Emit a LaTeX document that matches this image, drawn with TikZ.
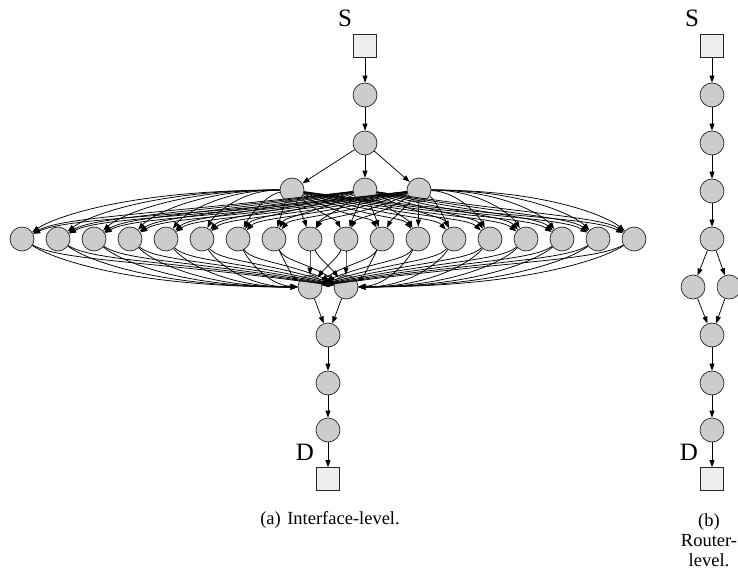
\documentclass[tikz,border=0pt]{standalone}
\usepackage{fontspec}
\setmainfont{Liberation Serif}
\usetikzlibrary{positioning, calc, arrows.meta}

\tikzset{
  nodo/.style={circle, draw=black!85, fill=gray!40, minimum size=24pt, inner sep=0pt, line width=0.7pt},
  capo/.style={rectangle, draw=black!85, fill=gray!14, minimum size=23pt, inner sep=0pt, line width=0.7pt},
  arco/.style={-{Triangle[length=7pt,width=5pt]}, line width=0.75pt},
  etich/.style={font=\fontsize{25}{25}\selectfont, inner sep=0pt},
  didasc/.style={font=\fontsize{18.5}{20}\selectfont, align=center, inner sep=0pt},
}

\begin{document}
\begin{tikzpicture}[x=1pt, y=-1pt]
        \useasboundingbox (0,0) rectangle (738,569);
        %grafo a livello interfaccia
        \node[capo] (s) at (365,46) {};
        \node[etich] (slab) at (345,18) {S};
        \node[nodo] (a1) at (365,95) {};
        \node[nodo] (a2) at (365,143) {};
        \foreach \x [count=\i] in {292,365,419}
            \node[nodo] (t\i) at (\x,190) {};
        \foreach \j in {1,...,18}
            \node[nodo] (m\j) at ({22+36*(\j-1)},239) {};
        \node[nodo] (b1) at (310,287) {};
        \node[nodo] (b2) at (346,287) {};
        \node[nodo] (c1) at (328,335) {};
        \node[nodo] (c2) at (328,383) {};
        \node[nodo] (c3) at (328,430) {};
        \node[capo] (d) at (328,479) {};
        \node[etich] (dlab) at (305,452) {D};
        %archi
        \draw[arco] (s) -- (a1);
        \draw[arco] (a1) -- (a2);
        \foreach \i in {1,2,3}
            \draw[arco] (a2) -- (t\i);
        \foreach \i/\x/\vl/\vr in {1/292/0/28, 2/365/24/24, 3/419/28/0}
            \foreach \j in {1,...,18} {
                \pgfmathsetmacro\dx{22+36*(\j-1)-\x}
                \pgfmathsetmacro\g{max(0,1-abs(\dx)/80)}
                \pgfmathsetmacro\v{((\dx<0) ? \vl : \vr)*(1-\g)+16*\g}
                \pgfmathsetmacro\pa{\dx*(0.6*(1-\g)+0.33*\g)}
                \pgfmathsetmacro\pb{-\dx*(0.12*(1-\g)+0.33*\g)}
                \pgfmathsetmacro\qb{-(22*(1-\g)+16*\g)}
                \draw[arco] (t\i) .. controls ($(t\i)+(\pa,\v)$) and ($(m\j)+(\pb,\qb)$) .. (m\j);
            }
        \foreach \k/\x/\wl/\wr in {1/310/0/26, 2/346/26/0}
            \foreach \j in {1,...,18} {
                \pgfmathsetmacro\dx{\x-(22+36*(\j-1))}
                \pgfmathsetmacro\g{max(0,1-abs(\dx)/80)}
                \pgfmathsetmacro\w{-(((\dx>0) ? \wl : \wr)*(1-\g)+16*\g)}
                \pgfmathsetmacro\pa{\dx*(0.12*(1-\g)+0.33*\g)}
                \pgfmathsetmacro\qa{22*(1-\g)+16*\g}
                \pgfmathsetmacro\pb{-\dx*(0.6*(1-\g)+0.33*\g)}
                \draw[arco] (m\j) .. controls ($(m\j)+(\pa,\qa)$) and ($(b\k)+(\pb,\w)$) .. (b\k);
            }
        \draw[arco] (b1) -- (c1);
        \draw[arco] (b2) -- (c1);
        \draw[arco] (c1) -- (c2);
        \draw[arco] (c2) -- (c3);
        \draw[arco] (c3) -- (d);
        \node[didasc] (capa) at (330,520) {(a)\hspace{0.35em}Interface-level.};
        %grafo a livello router
        \node[capo] (rs) at (712,46) {};
        \node[etich] (rslab) at (692,18) {S};
        \foreach \y [count=\i] in {95,143,191,239}
            \node[nodo] (r\i) at (712,\y) {};
        \node[nodo] (rl) at (693,287) {};
        \node[nodo] (rr) at (729,287) {};
        \node[nodo] (r5) at (712,335) {};
        \node[nodo] (r6) at (712,383) {};
        \node[nodo] (r7) at (712,430) {};
        \node[capo] (rd) at (712,479) {};
        \node[etich] (rdlab) at (689,452) {D};
        \draw[arco] (rs) -- (r1);
        \draw[arco] (r1) -- (r2);
        \draw[arco] (r2) -- (r3);
        \draw[arco] (r3) -- (r4);
        \draw[arco] (r4) -- (rl);
        \draw[arco] (r4) -- (rr);
        \draw[arco] (rl) -- (r5);
        \draw[arco] (rr) -- (r5);
        \draw[arco] (r5) -- (r6);
        \draw[arco] (r6) -- (r7);
        \draw[arco] (r7) -- (rd);
        \node[didasc] (capb) at (709,540) {(b)\\Router-\\level.};
\end{tikzpicture}
\end{document}
